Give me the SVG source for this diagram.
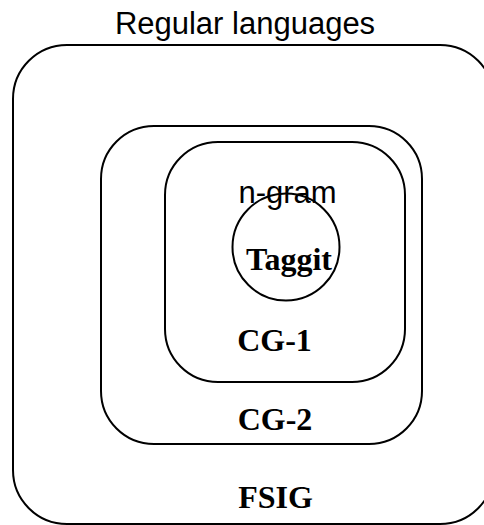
<svg xmlns="http://www.w3.org/2000/svg" width="484" height="525" viewBox="0 0 484 525">
  <style>
    .box { fill: none; stroke: #000; stroke-width: 2; }
    .sans { font-family: "Liberation Sans", Arial, sans-serif; font-size: 31px; fill: #000; text-anchor: middle; }
    .serif { font-family: "Liberation Serif", "Times New Roman", serif; font-size: 32px; font-weight: bold; fill: #000; text-anchor: middle; }
  </style>
  <rect width="484" height="525" fill="#fff"/>
  <text class="sans" x="245" y="34">Regular languages</text>
  <g id="fsig">
    <rect class="box" x="13" y="45" width="481" height="479" rx="54" ry="54"/>
    <text class="serif" x="275.5" y="508">FSIG</text>
  </g>
  <g id="cg2">
    <rect class="box" x="101" y="126" width="321" height="318" rx="53" ry="53"/>
    <text class="serif" x="275" y="430">CG-2</text>
  </g>
  <g id="cg1">
    <rect class="box" x="165" y="142" width="240" height="240" rx="53" ry="53"/>
    <text class="serif" x="274.5" y="351">CG-1</text>
  </g>
  <g id="ngram">
    <text class="sans" x="287.5" y="203">n-gram</text>
  </g>
  <g id="taggit">
    <circle class="box" cx="286" cy="247" r="53.5"/>
    <text class="serif" x="289" y="270">Taggit</text>
  </g>
  <g id="connectors"/>
</svg>
